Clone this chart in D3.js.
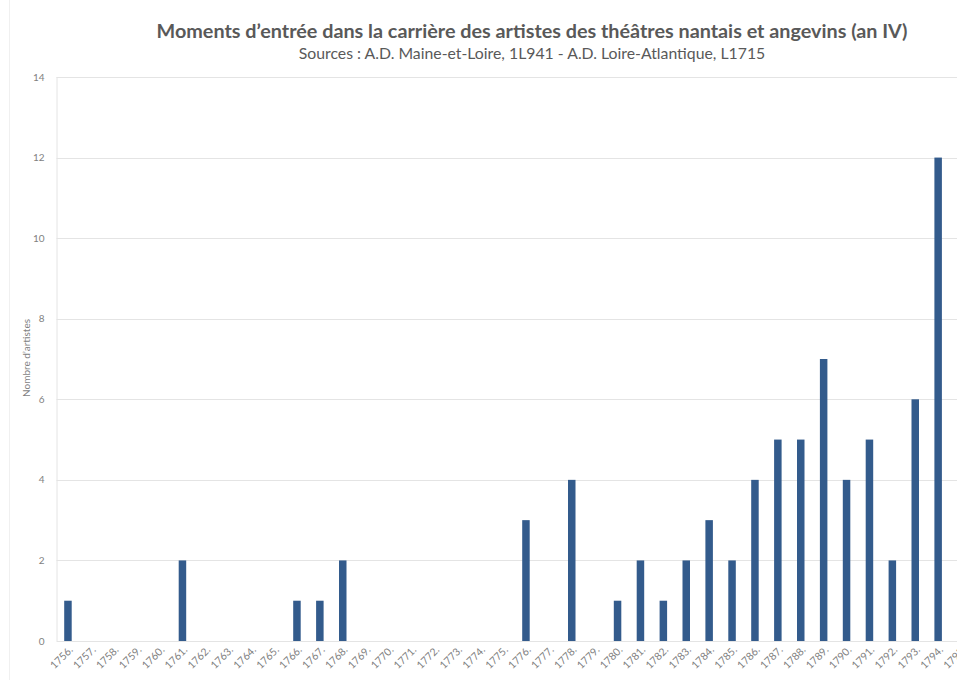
<!DOCTYPE html>
<html lang="fr">
    <head>
        <meta charset="utf-8">
        <title>Moments d'entrée dans la carrière</title>
        <script src="https://d3js.org/d3.v7.min.js"></script>
        <style type="text/css">
            html, body { margin: 0; padding: 0; background: #fff; overflow: hidden; }
            svg { display: block; }
            text { font-family: Lato, "Open Sans", sans-serif; }
        </style>
    </head>
    <body>
        <script>
            // data
            var years = ["1756.", "1757.", "1758.", "1759.", "1760.", "1761.", "1762.", "1763.", "1764.", "1765.",
                         "1766.", "1767.", "1768.", "1769.", "1770.", "1771.", "1772.", "1773.", "1774.", "1775.",
                         "1776.", "1777.", "1778.", "1779.", "1780.", "1781.", "1782.", "1783.", "1784.", "1785.",
                         "1786.", "1787.", "1788.", "1789.", "1790.", "1791.", "1792.", "1793.", "1794.", "1795."];
            var counts = [1, 0, 0, 0, 0, 2, 0, 0, 0, 0,
                          1, 1, 2, 0, 0, 0, 0, 0, 0, 0,
                          3, 0, 4, 0, 1, 2, 1, 2, 3, 2,
                          4, 5, 5, 7, 4, 5, 2, 6, 12, 0];
            var yTicks = [0, 2, 4, 6, 8, 10, 12, 14];

            var titleText = "Moments d\u2019entrée dans la carrière des artistes des théâtres nantais et angevins (an IV)";
            var subtitleText = "Sources : A.D. Maine-et-Loire, 1L941 - A.D. Loire-Atlantique, L1715";

            // configuration code
            var outerWidth = 957;
            var outerHeight = 680;
            // plot runs past the right edge, the last category is cropped like in the source picture
            var margin = { left: 56.5, top: 77, right: -15.5, bottom: 39 };
            var innerWidth = outerWidth - margin.left - margin.right;
            var innerHeight = outerHeight - margin.top - margin.bottom;

            var svg = d3.select("body")
                .append("svg")
                .attr("width", outerWidth)
                .attr("height", outerHeight);

            // faint frame line on the left
            svg.append("line")
                .attr("x1", 9.5).attr("x2", 9.5)
                .attr("y1", 0).attr("y2", outerHeight)
                .attr("stroke", "#f0f0f0");

            var g = svg.append("g")
                .attr("transform", "translate(" + margin.left + "," + margin.top + ")");

            var xScale = d3.scaleBand().domain(years).range([0, innerWidth]);
            var yScale = d3.scaleLinear().domain([0, 14]).range([innerHeight, 0]);

            // gridlines
            g.selectAll(".grid").data(yTicks).enter().append("line")
                .attr("class", "grid")
                .attr("x1", 0).attr("x2", innerWidth)
                .attr("y1", function (d) { return Math.round(yScale(d)) + 0.5; })
                .attr("y2", function (d) { return Math.round(yScale(d)) + 0.5; })
                .attr("stroke", "#e4e4e4");

            // left axis line
            g.append("line")
                .attr("x1", 0.5).attr("x2", 0.5)
                .attr("y1", 0).attr("y2", innerHeight)
                .attr("stroke", "#e4e4e4");

            // y tick labels
            g.selectAll(".ytick").data(yTicks).enter().append("text")
                .attr("class", "ytick")
                .attr("x", -12)
                .attr("y", function (d) { return yScale(d); })
                .attr("dy", "0.35em")
                .attr("text-anchor", "end")
                .style("font-size", "10px")
                .style("fill", "#7f7f7f")
                .text(function (d) { return d; });

            // bars
            var barWidth = 7.5;
            g.selectAll(".bar").data(counts).enter().append("rect")
                .attr("class", "bar")
                .attr("x", function (d, i) { return xScale(years[i]) + xScale.bandwidth() / 2 - barWidth / 2; })
                .attr("y", function (d) { return yScale(d); })
                .attr("width", barWidth)
                .attr("height", function (d) { return innerHeight - yScale(d); })
                .attr("fill", "#335b8c");

            // x tick labels, rotated
            g.selectAll(".xtick").data(years).enter().append("text")
                .attr("class", "xtick")
                .attr("transform", function (d) {
                    var x = xScale(d) + xScale.bandwidth() / 2 + 3;
                    return "translate(" + x + "," + (innerHeight + 7) + ") rotate(-45)";
                })
                .attr("text-anchor", "end")
                .attr("dy", "0.35em")
                .style("font-size", "10.5px")
                .style("fill", "#7f7f7f")
                .text(function (d) { return d; });

            // y axis title
            svg.append("text")
                .attr("transform", "translate(30," + (margin.top + innerHeight / 2 - 1) + ") rotate(-90)")
                .attr("text-anchor", "middle")
                .style("font-size", "10px")
                .style("fill", "#7f7f7f")
                .text("Nombre d\u2019artistes");

            // titles
            svg.append("text")
                .attr("x", 532)
                .attr("y", 38)
                .attr("text-anchor", "middle")
                .style("font-size", "19.8px")
                .style("font-weight", "bold")
                .style("fill", "#595959")
                .text(titleText);

            svg.append("text")
                .attr("x", 532)
                .attr("y", 59)
                .attr("text-anchor", "middle")
                .style("font-size", "15.8px")
                .style("fill", "#595959")
                .text(subtitleText);
        </script>
    </body>
</html>
